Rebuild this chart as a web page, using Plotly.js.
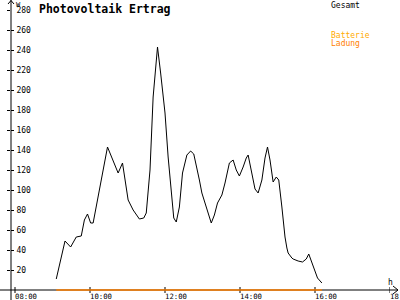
<!DOCTYPE html>
<html>
<head>
<meta charset="utf-8">
<script src="https://cdn.plot.ly/plotly-3.0.1.min.js"></script>
<style>html,body{margin:0;padding:0;background:#fff;}#chart{width:400px;height:300px;}</style>
</head>
<body>
<div id="chart"></div>
<script>
// ---- data ----
var day = "2024-06-01 ";
var times = ["09:06","09:20","09:29","09:38","09:46","09:51","09:56","10:01","10:05","10:28",
  "10:45","10:52","11:01","11:09","11:19","11:26","11:30","11:36","11:41","11:48",
  "11:53","12:00","12:05","12:11","12:14","12:18","12:23","12:28","12:35","12:41",
  "12:46","12:55","12:59","13:04","13:09","13:14","13:19","13:24","13:31","13:36",
  "13:43","13:49","13:54","13:59","14:05","14:10","14:13","14:19","14:24","14:29",
  "14:35","14:40","14:44","14:48","14:53","14:58","15:02","15:07","15:10","15:12",
  "15:15","15:17","15:23","15:25","15:33","15:40","15:46","15:50","15:57","16:04","16:11"];
var gesamt = [11,49,43,53,54,70,76,67,67,143,
  117,127,90,80,71,72,77,120,193,243,
  217,177,133,90,72,68,83,117,135,139,
  136,110,97,87,78,67,75,87,95,107,
  127,130,120,114,123,132,135,117,101,97,
  110,132,143,130,108,113,110,83,63,53,
  42,37,32,31,29,28,31,36,24,12,7];
var ladungTimes = ["09:06","16:11"];
var ladung = [0,0];
var tickTimes = ["08:00","10:00","12:00","14:00","16:00","18:00"];
var tickText = ["08:00","10:00","12:00","14:00","16:00","18:00"];
var yTicks = [20,40,60,80,100,120,140,160,180,200,220,240,260,280];

// ---- helpers ----
function dt(t){ return day + t; }
var W = 379, H = 282, L = 11, T = 10;
function px(x){ return (x - L) / W; }
function py(y){ return (T + H - y) / H; }
var mono = "DejaVu Sans Mono, monospace";

var traces = [
  {x: times.map(dt), y: gesamt, type: "scatter", mode: "lines",
   line: {color: "#000000", width: 1}, hoverinfo: "skip", xaxis: "x", yaxis: "y"},
  {x: ladungTimes.map(dt), y: ladung, type: "scatter", mode: "lines",
   line: {color: "#FF8000", width: 1.3}, hoverinfo: "skip", xaxis: "x", yaxis: "y"},
  {x: [dt("12:00")], y: [100], type: "scatter", mode: "none", xaxis: "x", yaxis: "y2", hoverinfo: "skip"}
];

var xRange = [dt("07:53:36"), dt("18:00")];
var yRange = [-2, 280];

var tickShapes = tickTimes.map(function(t){
  return {type: "line", xref: "x", yref: "paper", x0: dt(t), x1: dt(t), y0: py(287), y1: py(293),
          line: {color: "#000", width: 1}, layer: "below"};
});
var tickLabels = tickTimes.map(function(t, i){
  return {text: tickText[i], xref: "x", yref: "paper", x: dt(t), y: py(296.3), xanchor: "left", yanchor: "middle",
          xshift: -2, showarrow: false, font: {family: mono, size: 7.3, color: "#000"}};
});

var layout = {
  width: 400, height: 300,
  margin: {l: L, r: 10, t: T, b: 8},
  paper_bgcolor: "#ffffff", plot_bgcolor: "#ffffff",
  showlegend: false,
  font: {family: mono, size: 8, color: "#000"},
  xaxis: {type: "date", range: xRange, ticks: "", showticklabels: false, showgrid: false, zeroline: false,
    showline: false, fixedrange: true},
  yaxis: {range: yRange, tickvals: yTicks, ticks: "inside", ticklen: 3, tickwidth: 1, tickcolor: "#000",
    ticklabelposition: "inside", ticklabeloverflow: "allow", ticklabelstandoff: 1,
    showgrid: false, zeroline: false, showline: false,
    tickfont: {family: mono, size: 8, color: "#000"}, fixedrange: true},
  yaxis2: {range: yRange, tickvals: yTicks, overlaying: "y", ticks: "outside", ticklen: 3, tickwidth: 1,
    tickcolor: "#000", showticklabels: false, showgrid: false, zeroline: false, showline: false},
  shapes: [
    {type: "line", xref: "paper", yref: "paper", x0: px(0), x1: px(398), y0: py(290), y1: py(290), line: {color: "#000", width: 1}, layer: "below"},
    {type: "line", xref: "paper", yref: "paper", x0: px(11), x1: px(11), y0: py(300), y1: py(0), line: {color: "#000", width: 1}, layer: "below"},
    {type: "path", xref: "paper", yref: "paper",
     path: "M " + px(393) + "," + py(286) + " L " + px(398) + "," + py(290) + " L " + px(393) + "," + py(294),
     line: {color: "#000", width: 1}},
    {type: "path", xref: "paper", yref: "paper",
     path: "M " + px(8) + "," + py(4) + " L " + px(11) + "," + py(0.5) + " L " + px(14) + "," + py(4),
     line: {color: "#000", width: 1}}
  ].concat(tickShapes),
  annotations: [
    {text: "<b>Photovoltaik Ertrag</b>", xref: "paper", yref: "paper", x: px(37), y: py(8.5),
     xanchor: "left", yanchor: "middle", showarrow: false, font: {family: mono, size: 11.5, color: "#000"}},
    {text: "W", xref: "paper", yref: "paper", x: px(14), y: py(4.5), xanchor: "left", yanchor: "middle",
     showarrow: false, font: {family: mono, size: 7, color: "#000"}},
    {text: "h", xref: "paper", yref: "paper", x: px(386), y: py(282), xanchor: "left", yanchor: "middle",
     showarrow: false, font: {family: mono, size: 8, color: "#000"}},
    {text: "Gesamt", xref: "paper", yref: "paper", x: px(329), y: py(5), xanchor: "left", yanchor: "middle",
     showarrow: false, font: {family: mono, size: 8, color: "#000"}},
    {text: "Batterie", xref: "paper", yref: "paper", x: px(329), y: py(35.5), xanchor: "left", yanchor: "middle",
     showarrow: false, font: {family: mono, size: 8, color: "#FFAA00"}},
    {text: "Ladung", xref: "paper", yref: "paper", x: px(329), y: py(44), xanchor: "left", yanchor: "middle",
     showarrow: false, font: {family: mono, size: 8, color: "#FF8000"}}
  ].concat(tickLabels)
};

Plotly.newPlot("chart", traces, layout, {staticPlot: true, displayModeBar: false});
</script>
</body>
</html>
